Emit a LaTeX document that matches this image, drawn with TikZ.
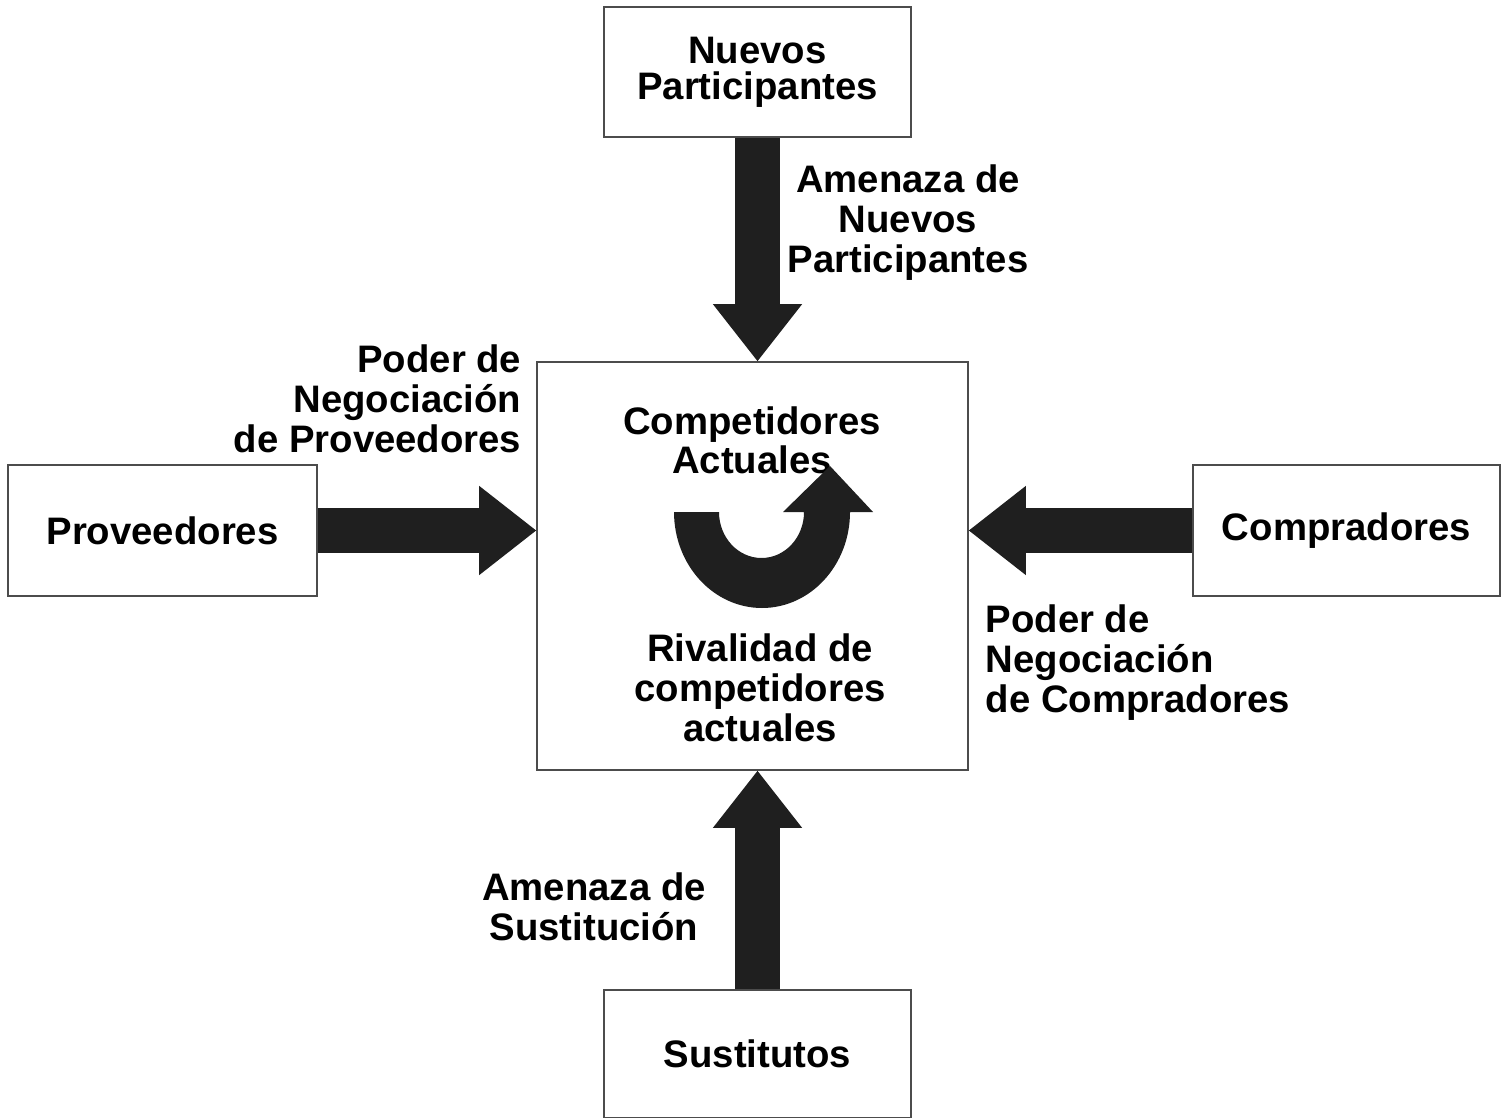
\documentclass[tikz,border=0pt]{standalone}
\usepackage{fontspec}
\setmainfont{Liberation Sans}
\usetikzlibrary{arrows.meta, positioning, calc}
\tikzset{
box/.style={draw=black!70, line width=0.5pt, inner sep=0pt, align=center, font=\bfseries\fontsize{10.9}{10.2}\selectfont}, % framed boxes
lbl/.style={inner sep=0pt, align=center, font=\bfseries\fontsize{10.9}{11.4}\selectfont}, % free text by the arrows
force/.style={line width=0.45cm, draw=black!88, -{Triangle[length=0.57cm, width=0.89cm, line width=0.4pt]}}, % fat block arrows
}
\begin{document}
\begin{tikzpicture}
      \useasboundingbox (0,0) rectangle (15.08,-11.18);
      \node[box, minimum width=3.07cm, minimum height=1.30cm] (np) at (7.575,-0.72) {Nuevos\\Participantes};
      \node[box, minimum width=3.09cm, minimum height=1.31cm] (prov) at (1.625,-5.305) {Proveedores};
      \node[box, minimum width=4.31cm, minimum height=4.08cm] (cc) at (7.525,-5.66) {};
      \node[box, minimum width=3.07cm, minimum height=1.31cm] (comp) at (13.465,-5.305) {Compradores};
      \node[box, minimum width=3.07cm, minimum height=1.28cm] (sust) at (7.575,-10.54) {Sustitutos};
      \draw[force] (np.south) -- (np.south |- cc.north);
      \draw[force] (prov.east) -- (prov.east -| cc.west);
      \draw[force] (comp.west) -- (comp.west -| cc.east);
      \draw[force] (sust.north) -- (sust.north |- cc.south);
      \node[lbl] (anp) at (9.08,-2.23) {Amenaza de\\Nuevos\\Participantes};
      \node[lbl, align=right, anchor=east] (pprov) at (5.22,-3.99) {Poder de\\Negociación\\de Proveedores};
      \node[lbl, font=\bfseries\fontsize{10.9}{10}\selectfont] (ca) at (7.52,-4.40) {Competidores\\Actuales};
      \node[lbl] (rca) at (7.60,-6.88) {Rivalidad de\\competidores\\actuales};
      \node[lbl, align=left, anchor=west] (pcomp) at (9.85,-6.63) {Poder de\\Negociación\\de Compradores};
      \node[lbl] (asus) at (5.94,-9.07) {Amenaza de\\Sustitución};
      % rivalry turn arrow
      \fill[black!88] (6.74,-5.12) arc[start angle=180, end angle=360, x radius=0.88, y radius=0.96]
        -- (8.73,-5.12) -- (8.30,-4.66) -- (7.83,-5.12) -- (8.04,-5.12)
        arc[start angle=0, end angle=-180, x radius=0.425, y radius=0.46] -- cycle;
\end{tikzpicture}
\end{document}
